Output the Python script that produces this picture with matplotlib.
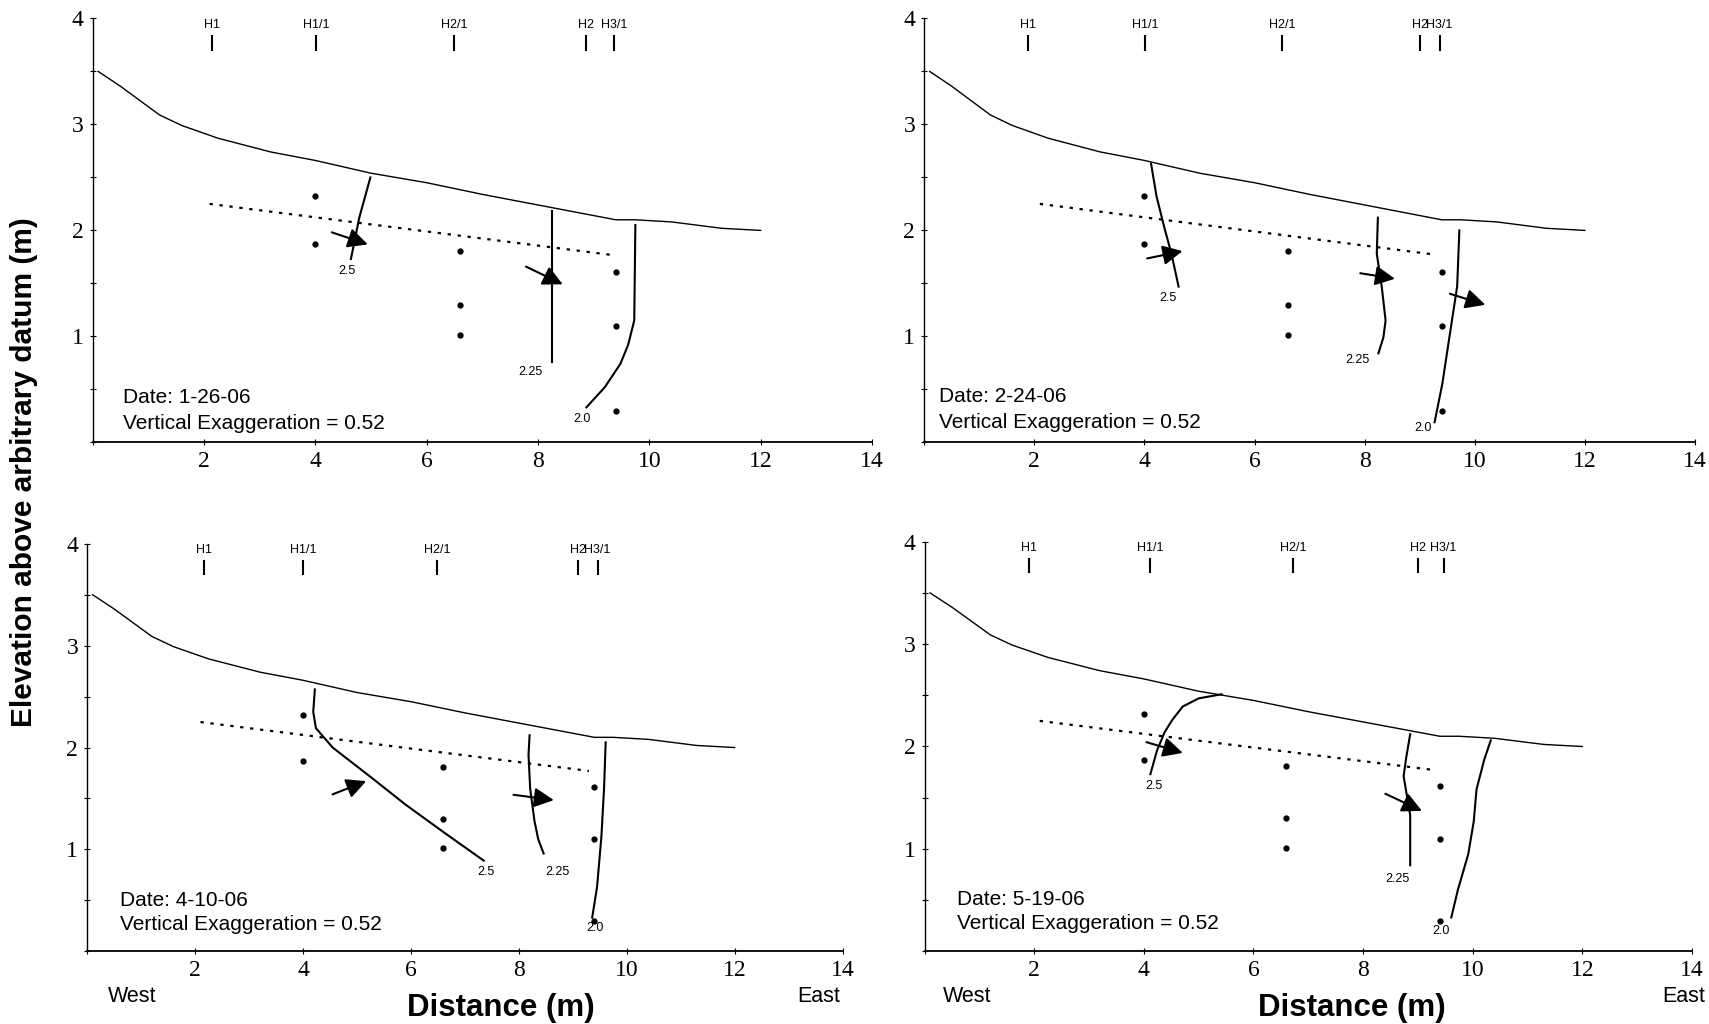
import matplotlib
matplotlib.use("Agg")
import matplotlib.pyplot as plt
import numpy as np

plt.rcParams['font.family'] = ['Liberation Sans', 'DejaVu Sans']

# ground surface profile (same in every panel)
surf_x = [0.1, 0.5, 1.2, 1.6, 2.25, 3.2, 4.0, 5.0, 6.0, 7.0, 8.0, 8.3, 9.4, 9.75, 10.4, 11.3, 12.0]
surf_y = [3.50, 3.36, 3.09, 2.99, 2.87, 2.74, 2.66, 2.54, 2.45, 2.34, 2.24, 2.21, 2.10, 2.10, 2.08, 2.02, 2.00]

# dotted line
dot_x = [2.1, 9.3]
dot_y = [2.25, 1.77]

# sampling points
pts_x = [4.0, 4.0, 6.6, 6.6, 6.6, 9.4, 9.4, 9.4]
pts_y = [2.32, 1.87, 1.81, 1.30, 1.01, 1.61, 1.10, 0.30]

well_names = ['H1', 'H1/1', 'H2/1', 'H2', 'H3/1']

dates = ['1-26-06', '2-24-06', '4-10-06', '5-19-06']

well_pos = [
    [2.15, 4.01, 6.50, 8.87, 9.37],
    [1.89, 4.01, 6.50, 9.00, 9.36],
    [2.16, 4.00, 6.49, 9.10, 9.46],
    [1.91, 4.11, 6.73, 9.00, 9.47],
]

# contour lines: (label, xs, ys, label_x, label_y)
contours = [
    [
        ('2.5', [4.99, 4.79, 4.64], [2.50, 2.12, 1.73], 4.56, 1.62),
        ('2.25', [8.25, 8.25], [2.18, 0.76], 7.86, 0.66),
        ('2.0', [9.75, 9.74, 9.73, 9.62, 9.48, 9.20, 8.87], [2.05, 1.60, 1.15, 0.92, 0.74, 0.52, 0.33], 8.79, 0.22),
    ],
    [
        ('2.5', [4.12, 4.22, 4.36, 4.49, 4.62], [2.63, 2.32, 2.03, 1.78, 1.47], 4.43, 1.36),
        ('2.25', [8.24, 8.22, 8.31, 8.38, 8.34, 8.25], [2.12, 1.78, 1.47, 1.15, 0.99, 0.84], 7.86, 0.78),
        ('2.0', [9.72, 9.68, 9.55, 9.41, 9.27], [2.00, 1.47, 1.03, 0.55, 0.19], 9.06, 0.14),
    ],
    [
        ('2.5', [4.22, 4.19, 4.24, 4.55, 5.28, 5.90, 6.63, 7.35], [2.57, 2.35, 2.19, 2.00, 1.70, 1.44, 1.16, 0.89], 7.40, 0.78),
        ('2.25', [8.20, 8.18, 8.21, 8.29, 8.36, 8.46], [2.12, 1.93, 1.60, 1.28, 1.10, 0.96], 8.72, 0.78),
        ('2.0', [9.61, 9.58, 9.53, 9.45, 9.36], [2.05, 1.60, 1.12, 0.63, 0.33], 9.41, 0.23),
    ],
    [
        ('2.5', [4.12, 4.24, 4.38, 4.52, 4.71, 5.0, 5.42], [1.73, 1.96, 2.14, 2.26, 2.39, 2.47, 2.51], 4.19, 1.61),
        ('2.25', [8.86, 8.79, 8.74, 8.80, 8.86, 8.86], [2.12, 1.90, 1.71, 1.52, 1.33, 0.84], 8.63, 0.71),
        ('2.0', [10.33, 10.21, 10.07, 10.02, 9.92, 9.73, 9.61], [2.06, 1.87, 1.58, 1.27, 0.95, 0.60, 0.33], 9.42, 0.20),
    ],
]

# flow arrows: (x0, y0, x1, y1)
arrows = [
    [(4.25, 1.99, 4.99, 1.86), (7.74, 1.67, 8.49, 1.48)],
    [(4.0, 1.73, 4.74, 1.81), (7.87, 1.60, 8.60, 1.54), (9.50, 1.41, 10.24, 1.29)],
    [(4.50, 1.53, 5.22, 1.68), (7.85, 1.54, 8.70, 1.48)],
    [(4.0, 2.05, 4.76, 1.93), (8.36, 1.55, 9.12, 1.36)],
]

date_pos = [(0.55, 0.42, 0.18), (0.27, 0.43, 0.19), (0.60, 0.50, 0.26), (0.59, 0.51, 0.27)]

fig = plt.figure(figsize=(17.09, 10.24), dpi=100)
rects = [
    [0.0542, 0.568, 0.456, 0.414],
    [0.5408, 0.568, 0.451, 0.414],
    [0.0510, 0.071, 0.442, 0.398],
    [0.5410, 0.071, 0.449, 0.400],
]

for i in range(4):
    ax = fig.add_axes(rects[i])
    ax.set_xlim(0, 14)
    ax.set_ylim(0, 4)
    for s in ['top', 'right']:
        ax.spines[s].set_visible(False)
    ax.spines['left'].set_linewidth(1.0)
    ax.spines['bottom'].set_linewidth(1.3)
    ax.set_xticks(np.arange(0, 15, 2))
    ax.set_xticklabels([''] + [str(v) for v in range(2, 15, 2)])
    ax.set_yticks(np.arange(0, 4.01, 0.5))
    ax.set_yticklabels(['', '', '1', '', '2', '', '3', '', '4'])
    ax.tick_params(direction='inout', length=5, width=0.8, pad=4,
                   labelsize=17, labelfontfamily='Liberation Serif')

    ax.plot(surf_x, surf_y, color='k', lw=1.0)
    ax.plot(dot_x, dot_y, color='k', lw=1.6, linestyle=(0, (1.5, 3)))
    ax.plot(pts_x, pts_y, 'o', color='k', markersize=3.5)

    for name, wx in zip(well_names, well_pos[i]):
        ax.plot([wx, wx], [3.70, 3.83], color='k', lw=1.5)
        ax.text(wx, 3.88, name, ha='center', va='bottom', fontsize=9)

    for lab, cx, cy, lx, ly in contours[i]:
        ax.plot(cx, cy, color='k', lw=1.5)
        ax.text(lx, ly, lab, ha='center', va='center', fontsize=9)

    for x0, y0, x1, y1 in arrows[i]:
        ax.annotate('', xy=(x1, y1), xytext=(x0, y0),
                    arrowprops=dict(arrowstyle='-|>', color='k', lw=1.5, mutation_scale=30))

    dx, dy1, dy2 = date_pos[i]
    ax.text(dx, dy1, 'Date: ' + dates[i], fontsize=15, va='center', ha='left')
    ax.text(dx, dy2, 'Vertical Exaggeration = 0.52', fontsize=15, va='center', ha='left')

fig.text(0.014, 0.539, 'Elevation above arbitrary datum (m)', rotation=90, fontsize=21.5,
         fontweight='bold', ha='center', va='center')
for cx in [0.293, 0.791]:
    fig.text(cx, 0.016, 'Distance (m)', fontsize=22.5, fontweight='bold', ha='center', va='center')
fig.text(0.063, 0.027, 'West', fontsize=15.5, ha='left', va='center')
fig.text(0.479, 0.027, 'East', fontsize=15.5, ha='center', va='center')
fig.text(0.566, 0.027, 'West', fontsize=15.5, ha='center', va='center')
fig.text(0.985, 0.027, 'East', fontsize=15.5, ha='center', va='center')

fig.savefig('out.png', dpi=100)
